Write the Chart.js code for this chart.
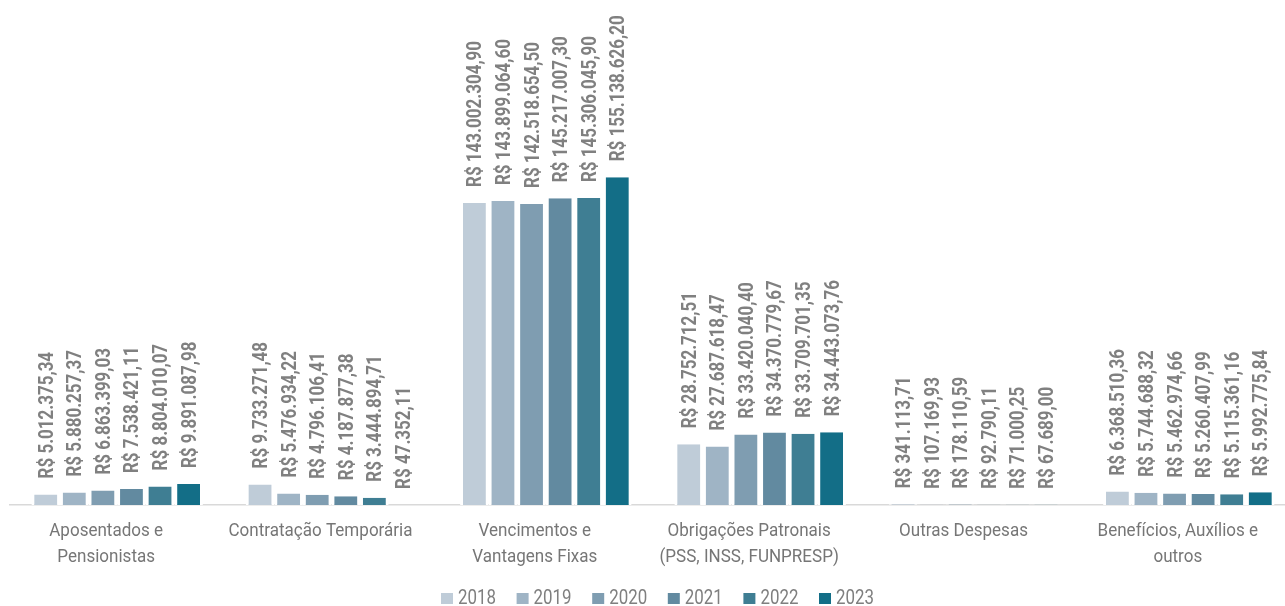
<!DOCTYPE html>
<html>
<head>
<meta charset="utf-8">
<script src="https://cdn.jsdelivr.net/npm/chart.js@4"></script>
<style>
html,body{margin:0;padding:0;background:#fff;overflow:hidden;width:1285px;height:606px;}
</style>
</head>
<body>
<canvas id="c" width="1296" height="606" style="display:block"></canvas>
<script>
const categories = [
  ["Aposentados e","Pensionistas"],
  ["Contratação Temporária"],
  ["Vencimentos e","Vantagens Fixas"],
  ["Obrigações Patronais","(PSS, INSS, FUNPRESP)"],
  ["Outras Despesas"],
  ["Benefícios, Auxílios e","outros"]
];
const years = ["2018","2019","2020","2021","2022","2023"];
const v2018 = [5012375.34, 9733271.48, 143002304.90, 28752712.51, 341113.71, 6368510.36];
const v2019 = [5880257.37, 5476934.22, 143899064.60, 27687618.47, 107169.93, 5744688.32];
const v2020 = [6863399.03, 4796106.41, 142518654.50, 33420040.40, 178110.59, 5462974.66];
const v2021 = [7538421.11, 4187877.38, 145217007.30, 34370779.67, 92790.11, 5260407.99];
const v2022 = [8804010.07, 3444894.71, 145306045.90, 33709701.35, 71000.25, 5115361.16];
const v2023 = [9891087.98, 47352.11, 155138626.20, 34443073.76, 67689.00, 5992775.84];
const seriesValues = [v2018, v2019, v2020, v2021, v2022, v2023];
const colors = ["#BFCCD8","#9FB4C5","#7F9DB1","#628AA0","#3F7E93","#136E87"];

const FONT = "Roboto, 'DejaVu Sans', sans-serif";

function fmtBRL(v){
  const parts = v.toFixed(2).split(".");
  const intp = parts[0].replace(/\B(?=(\d{3})+(?!\d))/g, ".");
  return "R$ " + intp + "," + parts[1];
}

const customText = {
  id: 'customText',
  afterDatasetsDraw(chart){
    const ctx = chart.ctx;
    const xs = chart.scales.x;
    const ys = chart.scales.y;
    // rotated data labels
    ctx.save();
    ctx.font = "bold 20px " + FONT;
    const sData = 146 / ctx.measureText("R$ 143.002.304,90").width;
    ctx.fillStyle = "#808080";
    ctx.textAlign = "left";
    ctx.textBaseline = "alphabetic";
    chart.data.datasets.forEach((ds, di) => {
      const meta = chart.getDatasetMeta(di);
      meta.data.forEach((bar, i) => {
        ctx.save();
        ctx.translate(bar.x, bar.y - 16);
        ctx.rotate(-Math.PI/2);
        ctx.scale(sData, 1);
        ctx.fillText(fmtBRL(ds.data[i]), 0, 7);
        ctx.restore();
      });
    });
    ctx.restore();

    // category labels
    ctx.save();
    ctx.font = "19px " + FONT;
    const sTick = 184 / ctx.measureText("Contratação Temporária").width;
    ctx.fillStyle = "#767676";
    ctx.textAlign = "center";
    ctx.textBaseline = "alphabetic";
    categories.forEach((lines, i) => {
      const cx = xs.getPixelForValue(i) - 11;
      lines.forEach((ln, k) => {
        ctx.save();
        ctx.translate(cx, 536 + k * 25.7);
        ctx.scale(sTick, 1);
        ctx.fillText(ln, 0, 0);
        ctx.restore();
      });
    });
    ctx.restore();

    // legend
    ctx.save();
    ctx.font = "20px " + FONT;
    const sLeg = 38 / ctx.measureText("2018").width;
    const pitch = 75.6;
    const startX = 441;
    years.forEach((y, k) => {
      const bx = startX + k * pitch;
      ctx.fillStyle = colors[k];
      ctx.fillRect(bx, 593, 12, 11);
      ctx.save();
      ctx.fillStyle = "#7F7F7F";
      ctx.textAlign = "left";
      ctx.textBaseline = "alphabetic";
      ctx.translate(bx + 17, 604);
      ctx.scale(sLeg, 1);
      ctx.fillText(y, 0, 0);
      ctx.restore();
    });
    ctx.restore();
  }
};

new Chart(document.getElementById('c'), {
  type: 'bar',
  data: {
    labels: categories,
    datasets: years.map((y, k) => ({
      label: y,
      data: seriesValues[k],
      backgroundColor: colors[k],
      borderColor: '#ffffff',
      borderWidth: {left: 2.9, right: 2.9, top: 0, bottom: 0},
      borderSkipped: false,
      categoryPercentage: 0.8,
      barPercentage: 1.0
    }))
  },
  options: {
    responsive: false,
    animation: false,
    layout: {padding: {left: 10, right: 0, top: 0, bottom: 101}},
    plugins: {
      legend: {display: false},
      tooltip: {enabled: false}
    },
    scales: {
      x: {
        grid: {display: false, drawTicks: false},
        border: {display: true, color: '#D9D9D9', width: 1.5},
        ticks: {display: false}
      },
      y: {
        display: false,
        min: 0,
        max: 239100000
      }
    }
  },
  plugins: [customText]
});
</script>
</body>
</html>
